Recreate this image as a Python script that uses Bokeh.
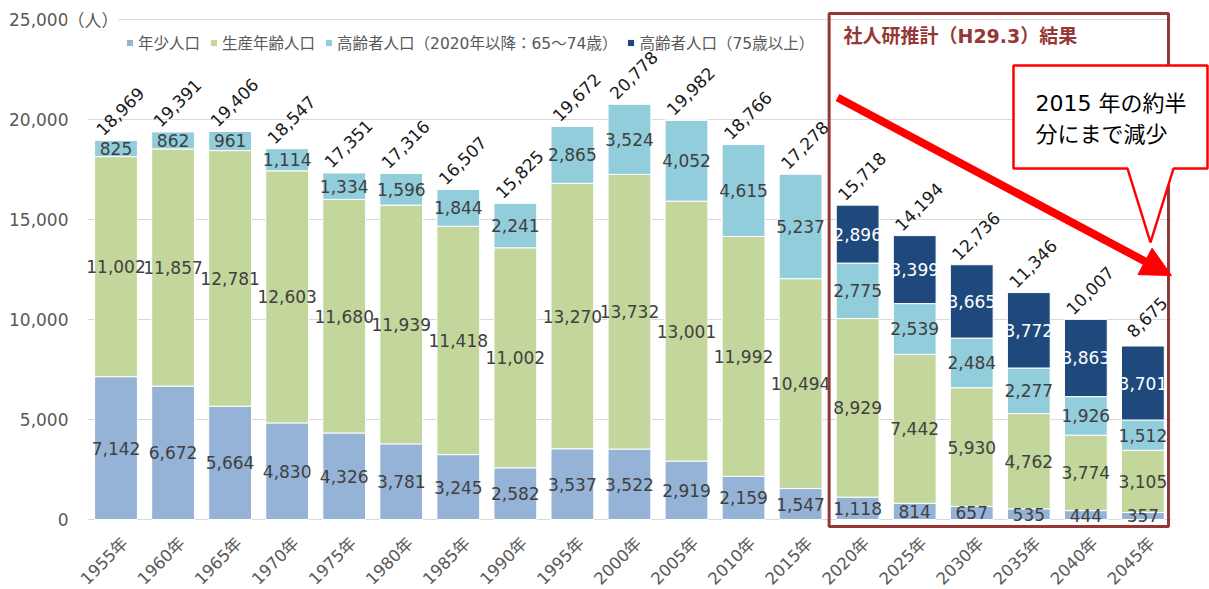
import math
from bokeh.plotting import figure
from bokeh.models import (ColumnDataSource, Range1d, Legend, LegendItem, Arrow, NormalHead)
from bokeh.core.properties import value
from bokeh.embed import file_html
from bokeh.resources import INLINE

# ---------------- data ----------------
years = ["1955年", "1960年", "1965年", "1970年", "1975年", "1980年", "1985年", "1990年",
         "1995年", "2000年", "2005年", "2010年", "2015年", "2020年", "2025年", "2030年",
         "2035年", "2040年", "2045年"]
young = [7142, 6672, 5664, 4830, 4326, 3781, 3245, 2582, 3537, 3522, 2919, 2159, 1547,
         1118, 814, 657, 535, 444, 357]
working = [11002, 11857, 12781, 12603, 11680, 11939, 11418, 11002, 13270, 13732, 13001,
           11992, 10494, 8929, 7442, 5930, 4762, 3774, 3105]
elderly = [825, 862, 961, 1114, 1334, 1596, 1844, 2241, 2865, 3524, 4052, 4615, 5237,
           2775, 2539, 2484, 2277, 1926, 1512]
old75 = [0, 0, 0, 0, 0, 0, 0, 0, 0, 0, 0, 0, 0, 2896, 3399, 3665, 3772, 3863, 3701]
totals = [18969, 19391, 19406, 18547, 17351, 17316, 16507, 15825, 19672, 20778, 19982,
          18766, 17278, 15718, 14194, 12736, 11346, 10007, 8675]
series_keys = ["young", "working", "elderly", "old75"]
series_names = ["年少人口", "生産年齢人口", "高齢者人口（2020年以降：65～74歳）", "高齢者人口（75歳以上）"]
colors = ["#95B3D7", "#C3D69B", "#92CDDC", "#1F497D"]
y_ticks = [0, 5000, 10000, 15000, 20000, 25000]
y_unit = "（人）"
projection_start = "2020年"
box_title = "社人研推計（H29.3）結果"
callout_lines = ["2015 年の約半", "分にまで減少"]

FONT = "DejaVu Sans, Noto Sans CJK JP"
CJK = "Noto Sans CJK JP"
GRAY = "#595959"
LABEL = "#404040"
BOXC = "#953735"

# ---------------- geometry (frame covers whole canvas) ----------------
W, H = 1209, 589
n = len(years)
px_per_cat = 57.05
x_start = -115.5 / px_per_cat
x_end = x_start + W / px_per_cat
upp = 50.0  # data units per pixel (y)
y_top = 519 * upp
y_bottom = y_top - H * upp


def sx(px):  # canvas pixel -> data x
    return x_start + px / px_per_cat


def sy(py):  # canvas pixel -> data y
    return y_top - py * upp


p = figure(width=W, height=H, x_range=Range1d(x_start, x_end), y_range=Range1d(y_bottom, y_top),
           output_backend="svg", toolbar_location=None, x_axis_location=None,
           y_axis_location=None, title=None,
           min_border_left=0, min_border_right=0, min_border_top=0, min_border_bottom=0)
p.outline_line_color = None
p.background_fill_color = "white"
p.border_fill_color = "white"
p.xgrid.visible = False
p.ygrid.visible = False

# gridlines
p.segment(x0=[-0.5] * len(y_ticks), y0=y_ticks, x1=[n - 0.5] * len(y_ticks), y1=y_ticks,
          line_color="#D9D9D9", line_width=1)

# y tick labels
p.text(x=[sx(68)] * len(y_ticks), y=y_ticks, text=[f"{v:,}" for v in y_ticks],
       text_align="right", text_baseline="middle", text_font=value(FONT),
       text_font_size="17px", text_color=GRAY)
p.text(x=[sx(67)], y=[y_ticks[-1]], text=[y_unit], text_align="left", text_baseline="middle",
       text_font=value(CJK), text_font_size="17px", text_color=GRAY,
       background_fill_color="white")

# bars
src = ColumnDataSource(dict(x=list(range(n)), young=young, working=working,
                            elderly=elderly, old75=old75))
rs = p.vbar_stack(series_keys, x="x", width=0.75, fill_color=colors, line_color="white",
                  line_width=1, source=src)

# segment labels
lx, ly, lt, lc = [], [], [], []
vals = [young, working, elderly, old75]
for i in range(n):
    base = 0
    for k, arr in enumerate(vals):
        v = arr[i]
        if v > 0:
            lx.append(i)
            ly.append(base + v / 2)
            lt.append(f"{v:,}")
            lc.append("white" if k == 3 else LABEL)
        base += v
p.text(x="x", y="y", text="t", text_color="c",
       source=ColumnDataSource(dict(x=lx, y=ly, t=lt, c=lc)),
       text_align="center", text_baseline="middle", text_font=value(FONT),
       text_font_size="17px")

# totals
p.text(x=list(range(n)), y=totals, text=[f"{t:,}" for t in totals], angle=math.pi / 4,
       text_align="center", text_baseline="middle", x_offset=4, y_offset=-29,
       text_font=value(FONT), text_font_size="17px", text_color="#1a1a1a")

# x tick labels
p.text(x=list(range(n)), y=[0] * n, text=years, angle=math.pi / 4,
       text_align="right", text_baseline="middle", x_offset=9, y_offset=21,
       text_font=value(FONT), text_font_size="16.5px", text_color=GRAY)

# legend
legend = Legend(items=[LegendItem(label=nm, renderers=[r]) for nm, r in zip(series_names, rs)],
                orientation="horizontal", location=(125, 536), padding=0, margin=0,
                spacing=9, label_standoff=4, glyph_width=9, glyph_height=9,
                label_text_font=FONT, label_text_font_size="15.5px", label_text_color=GRAY,
                border_line_color=None, background_fill_alpha=0)
p.add_layout(legend)

# projection box
i0 = years.index(projection_start)
p.quad(left=[i0 - 0.5], right=[sx(1168)], top=[sy(13)], bottom=[sy(526)],
       fill_color=None, line_color=BOXC, line_width=3)
p.text(x=[sx(843)], y=[sy(35)], text=[box_title], text_align="left", text_baseline="middle",
       text_font=value(FONT), text_font_size="19px", text_font_style="bold", text_color=BOXC)

# arrow
p.add_layout(Arrow(x_start=sx(837), y_start=sy(97), x_end=sx(1171), y_end=sy(275),
                   line_color="#FF0000", line_width=8,
                   end=NormalHead(size=30, fill_color="#FF0000", line_color="#FF0000")))

# callout
cx = [1013, 1207, 1207, 1173, 1150, 1127, 1013]
cy = [65, 65, 168, 168, 242, 168, 168]
p.patch(x=[sx(v) for v in cx], y=[sy(v) for v in cy], fill_color="white",
        line_color="#FF0000", line_width=2.5)
p.text(x=[sx(1035), sx(1035)], y=[sy(103), sy(134)], text=callout_lines,
       text_align="left", text_baseline="middle", text_font=value(FONT),
       text_font_size="22px", text_color="black")

open("out.html", "w").write(file_html(p, INLINE))
